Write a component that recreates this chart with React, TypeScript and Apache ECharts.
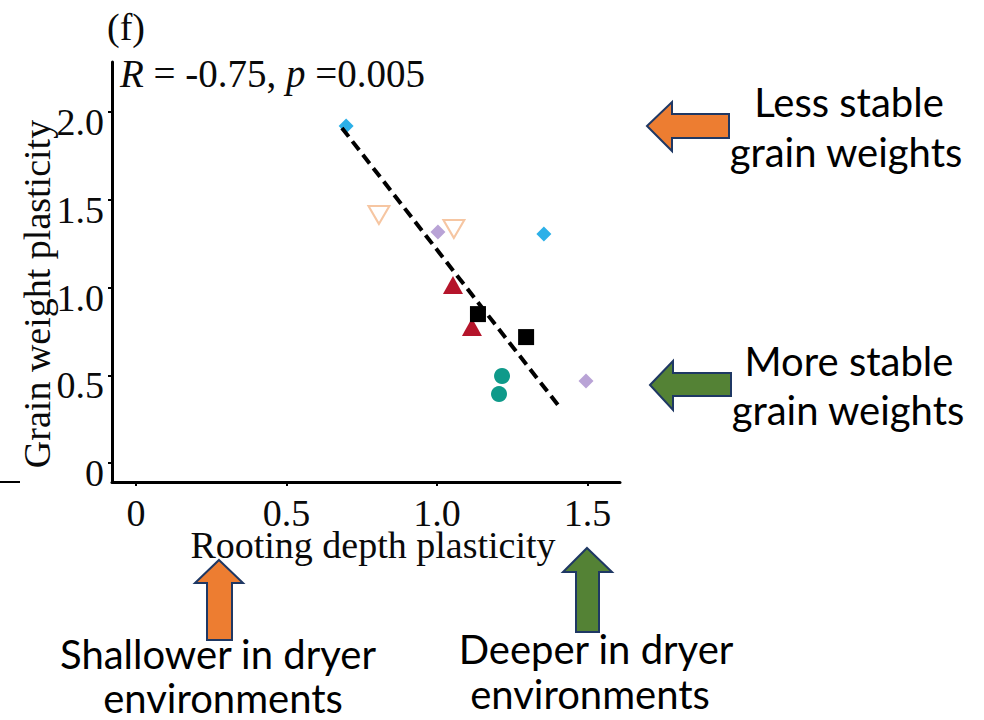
import React, { useEffect, useRef } from "react";
import * as echarts from "echarts";

// Axis ticks
const xTickValues = [0, 0.5, 1.0, 1.5];
const xTickLabels = ["0", "0.5", "1.0", "1.5"];
const yTickValues = [0, 0.5, 1.0, 1.5, 2.0];
const yTickLabels = ["0", "0.5", "1.0", "1.5", "2.0"];

// Point groups (rooting depth plasticity, grain weight plasticity)
const blueX = [0.698, 1.355];
const blueY = [1.921, 1.306];
const peachX = [0.807, 1.056];
const peachY = [1.414, 1.334];
const purpleX = [1.003, 1.495];
const purpleY = [1.317, 0.468];
const redX = [1.053, 1.116];
const redY = [1.015, 0.775];
const blackX = [1.136, 1.296];
const blackY = [0.849, 0.718];
const tealX = [1.216, 1.206];
const tealY = [0.496, 0.393];

// Fitted regression line end points
const fitX = [0.684, 1.402];
const fitY = [1.91, 0.331];

const statsText = "{i|R} = -0.75, {i|p} =0.005";

const SERIF = "Liberation Serif";
const SANS = "Lato";
const SANS_SIZE = 40;
const INK = "#0a0a0a";

const zip = (xs: number[], ys: number[]) => xs.map((x, i) => [x, ys[i]]);
const fmt = (vals: number[], labels: string[]) => (v: number) => {
  const i = vals.findIndex((t) => Math.abs(t - v) < 1e-6);
  return i >= 0 ? labels[i] : "";
};

const outline = "#1f3864";

const note = (text: string, x: number, y: number) => ({
  type: "text",
  x,
  y,
  style: {
    text,
    fontFamily: SANS,
    fontSize: SANS_SIZE,
    lineHeight: 34,
    fill: "#000",
    align: "center",
    verticalAlign: "middle",
  },
});

export default function App() {
  const ref = useRef<HTMLDivElement>(null);
  useEffect(() => {
    if (!ref.current) return;
    const chart = echarts.init(ref.current, null, { renderer: "svg" });
    chart.setOption({
      animation: false,
      backgroundColor: "#ffffff",
      grid: { left: 112, right: 364, top: 62, bottom: 238, containLabel: false },
      xAxis: {
        type: "value",
        min: -0.08,
        max: 1.608,
        name: "Rooting depth plasticity",
        nameLocation: "middle",
        nameGap: 48,
        nameMoveOverlap: false,
        nameTextStyle: { fontFamily: SERIF, fontSize: 38, lineHeight: 30, color: INK, padding: [0, 0, 0, 14] },
        axisLine: { show: true, onZero: false, lineStyle: { color: "#000", width: 3 } },
        axisTick: { show: true, inside: false, length: 4, lineStyle: { color: "#000", width: 2 }, customValues: xTickValues },
        axisLabel: {
          fontFamily: SERIF,
          fontSize: 38,
          lineHeight: 30,
          color: INK,
          margin: 16,
          customValues: xTickValues,
          formatter: fmt(xTickValues, xTickLabels),
        },
        splitLine: { show: false },
      },
      yAxis: {
        type: "value",
        min: -0.108,
        max: 2.286,
        axisLine: { show: true, onZero: false, lineStyle: { color: "#000", width: 3 } },
        axisTick: { show: true, inside: false, length: 4, lineStyle: { color: "#000", width: 2 }, customValues: yTickValues },
        axisLabel: {
          fontFamily: SERIF,
          fontSize: 38,
          color: INK,
          margin: 8,
          verticalAlign: "top",
          lineHeight: 20,
          customValues: yTickValues,
          formatter: fmt(yTickValues, yTickLabels),
        },
        splitLine: { show: false },
      },
      series: [
        {
          type: "scatter",
          data: zip(blueX, blueY),
          symbol: "diamond",
          symbolSize: 15,
          itemStyle: { color: "#2cb0e8", opacity: 1 },
        },
        {
          type: "scatter",
          data: zip(peachX, peachY),
          symbol: "triangle",
          symbolRotate: 180,
          symbolSize: [21, 18],
          itemStyle: { color: "#ffffff", borderColor: "#f6c6a2", borderWidth: 2, opacity: 1 },
        },
        {
          type: "scatter",
          data: zip(purpleX, purpleY),
          symbol: "diamond",
          symbolSize: 15,
          itemStyle: { color: "#b9a3d6", opacity: 1 },
        },
        {
          type: "scatter",
          data: zip(redX, redY),
          symbol: "triangle",
          symbolSize: [20, 18],
          itemStyle: { color: "#b5152b", opacity: 1 },
        },
        {
          type: "scatter",
          data: zip(blackX, blackY),
          symbol: "rect",
          symbolSize: 16,
          itemStyle: { color: "#000000", opacity: 1 },
        },
        {
          type: "scatter",
          data: zip(tealX, tealY),
          symbol: "circle",
          symbolSize: 16,
          itemStyle: { color: "#0f9a8a", opacity: 1 },
        },
        {
          type: "line",
          data: zip(fitX, fitY),
          symbol: "none",
          z: 5,
          lineStyle: { color: "#000", width: 4, type: [11, 6] },
        },
      ],
      graphic: [
        {
          type: "text",
          left: 107,
          top: 8,
          style: { text: "(f)", fontFamily: SERIF, fontSize: 38, fill: INK },
        },
        {
          type: "text",
          x: 120,
          y: 73,
          style: {
            text: statsText,
            fontFamily: SERIF,
            fontSize: 39,
            fill: INK,
            verticalAlign: "middle",
            rich: { i: { fontFamily: SERIF, fontSize: 39, fontStyle: "italic", fill: INK } },
          },
        },
        {
          type: "text",
          x: 37,
          y: 294,
          rotation: Math.PI / 2,
          style: {
            text: "Grain weight plasticity",
            fontFamily: SERIF,
            fontSize: 38,
            fill: INK,
            align: "center",
            verticalAlign: "middle",
          },
        },
        {
          type: "line",
          shape: { x1: 0, y1: 482, x2: 20, y2: 482 },
          style: { stroke: "#000", lineWidth: 2 },
        },
        // Orange left arrow
        {
          type: "polygon",
          shape: {
            points: [
              [647, 126], [672, 102], [672, 114], [729, 114], [729, 138], [672, 138], [672, 151],
            ],
          },
          style: { fill: "#ed7d31", stroke: outline, lineWidth: 2 },
        },
        // Green left arrow
        {
          type: "polygon",
          shape: {
            points: [
              [650, 385], [673, 361], [673, 373], [731, 373], [731, 396], [673, 396], [673, 410],
            ],
          },
          style: { fill: "#548235", stroke: outline, lineWidth: 2 },
        },
        // Orange up arrow
        {
          type: "polygon",
          shape: {
            points: [
              [219, 560], [243, 583], [232, 583], [232, 640], [207, 640], [207, 583], [195, 583],
            ],
          },
          style: { fill: "#ed7d31", stroke: outline, lineWidth: 2 },
        },
        // Green up arrow
        {
          type: "polygon",
          shape: {
            points: [
              [587, 548], [612, 572], [599, 572], [599, 632], [576, 632], [576, 572], [563, 572],
            ],
          },
          style: { fill: "#548235", stroke: outline, lineWidth: 2 },
        },
        note("Less stable", 849, 102),
        note("grain weights", 846, 152),
        note("More stable", 849, 361),
        note("grain weights", 848, 410),
        note("Shallower in dryer", 218, 654),
        note("environments", 223, 698),
        note("Deeper in dryer", 596, 649),
        note("environments", 590, 694),
      ],
    });
    return () => chart.dispose();
  }, []);
  return (
    <div
      ref={ref}
      style={{ position: "fixed", left: 0, top: 0, width: 984, height: 720, background: "#fff" }}
    />
  );
}
